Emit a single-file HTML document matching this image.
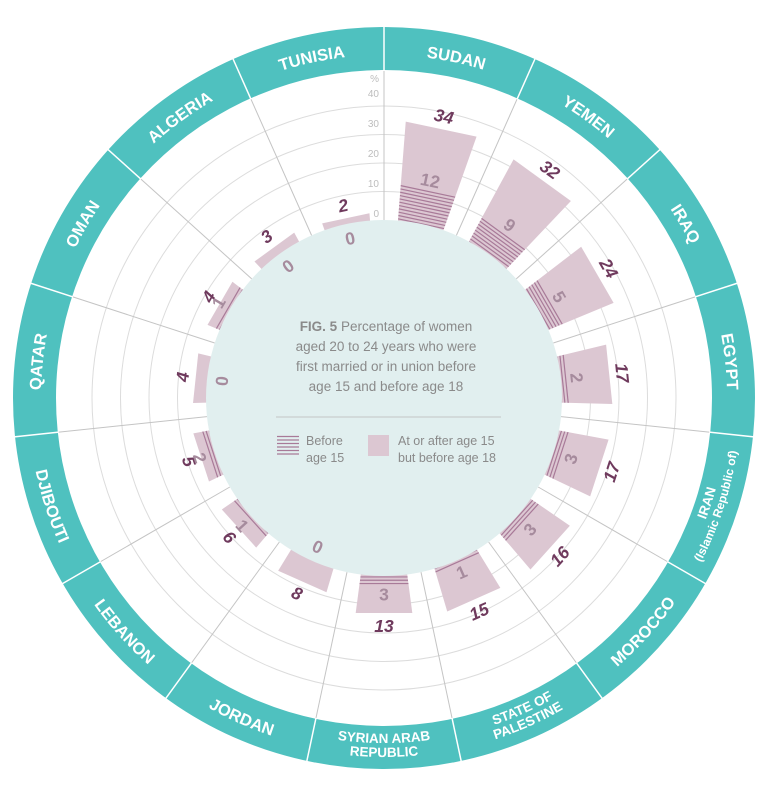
<!DOCTYPE html>
<html><head><meta charset="utf-8"><style>
body{margin:0;background:#fff;}
svg{display:block;font-family:"Liberation Sans",sans-serif;}
</style></head><body>
<svg id="chart" width="773" height="791" viewBox="0 0 773 791" xmlns="http://www.w3.org/2000/svg">
<g id="grid"></g>
<g id="bars"></g>
<circle cx="384" cy="398" r="178" fill="#e1efef"/>
<g id="labels"></g>
<g id="ring"></g>
<g font-size="13.5" fill="#8a8a8a" text-anchor="middle">
<text x="386" y="331"><tspan font-weight="bold">FIG. 5</tspan>  Percentage of women</text>
<text x="386" y="351">aged 20 to 24 years who were</text>
<text x="386" y="371">first married or in union before</text>
<text x="386" y="391">age 15 and before age 18</text>
</g>
<line x1="276" y1="417" x2="501" y2="417" stroke="#c4c4c4" stroke-width="1"/>
<g>
<g stroke="#a87a98" stroke-width="1.2">
<line x1="277" y1="436.5" x2="299" y2="436.5"/><line x1="277" y1="440" x2="299" y2="440"/><line x1="277" y1="443.5" x2="299" y2="443.5"/><line x1="277" y1="447" x2="299" y2="447"/><line x1="277" y1="450.5" x2="299" y2="450.5"/><line x1="277" y1="454" x2="299" y2="454"/>
</g>
<text x="306" y="445" font-size="12.5" fill="#8a8a8a">Before</text>
<text x="306" y="462" font-size="12.5" fill="#8a8a8a">age 15</text>
<rect x="368" y="435" width="21" height="21" fill="#dcc7d2"/>
<text x="398" y="445" font-size="12.5" fill="#8a8a8a">At or after age 15</text>
<text x="398" y="462" font-size="12.5" fill="#8a8a8a">but before age 18</text>
</g>
<g id="ticks" font-size="10" fill="#bdbdbd" text-anchor="end"></g>
</svg>
<script>
const countries = ["SUDAN","YEMEN","IRAQ","EGYPT","IRAN","MOROCCO","STATE OF|PALESTINE","SYRIAN ARAB|REPUBLIC","JORDAN","LEBANON","DJIBOUTI","QATAR","OMAN","ALGERIA","TUNISIA"];
const before18 = [34,32,24,17,17,16,15,13,8,6,5,4,4,3,2];
const before15 = [12,9,5,2,3,3,1,3,0,1,2,0,1,0,0];
const tickValues = [0,10,20,30,40];

const NS="http://www.w3.org/2000/svg";
const CX=384, CY=398, R0=178, K=2.85, SEC=24, HW=7.5;
function rScale(v){return R0+K*v;}
function pt(a,r){const t=a*Math.PI/180;return [CX+r*Math.sin(t), CY-r*Math.cos(t)];}
function mk(tag,attrs,parent){const e=document.createElementNS(NS,tag);for(const k in attrs)e.setAttribute(k,attrs[k]);parent.appendChild(e);return e;}
const grid=document.getElementById('grid'),bars=document.getElementById('bars'),labels=document.getElementById('labels'),ring=document.getElementById('ring'),ticks=document.getElementById('ticks');

tickValues.forEach(v=>{ if(v>0){const c=mk('circle',{cx:CX,cy:CY,r:rScale(v),fill:'none',stroke:'#dcdcdc','stroke-width':1},grid);

}});
countries.forEach((c,i)=>{const a=i*SEC;const p1=pt(a,R0),p2=pt(a,328);
const l=mk('line',{x1:p1[0],y1:p1[1],x2:p2[0],y2:p2[1],stroke:'#c4c4c4','stroke-width':1},grid);

});
tickValues.forEach(v=>{const t=mk('text',{x:CX-5,y:CY-(185+3*v)+4},ticks);t.textContent=v;

});
const pct=mk('text',{x:CX-5,y:82},ticks);pct.textContent='%';



function rot(m){return (m>90&&m<270)?m-180:m;}
countries.forEach((name,i)=>{
  const m=i*SEC+SEC/2, cs=Math.cos(HW*Math.PI/180);
  const d=rScale(before18[i]), d15=rScale(before15[i]);
  const a=pt(m-HW,150),b=pt(m-HW,d/cs),c=pt(m+HW,d/cs),e=pt(m+HW,150);
  const key=name.split('|').join('-').toLowerCase().replace(/ /g,'-');
  const poly=mk('polygon',{points:[a,b,c,e].map(p=>p.join(',')).join(' '),fill:'#dcc7d2'},bars);
  
  
  if(before15[i]>0){
    const g=mk('g',{stroke:'#a87a98','stroke-width':1.2},bars);
    
    
    for(let s=d15-1;s>160;s-=3.3){const p=pt(m-HW,s/cs),q=pt(m+HW,s/cs);mk('line',{x1:p[0],y1:p[1],x2:q[0],y2:q[1]},g);}
  }
  const r=rot(m);
  const po=pt(m,d+13);
  const t1=mk('text',{x:po[0],y:po[1],'font-size':17.5,'font-weight':'bold','font-style':'italic',fill:'#6f3a5d','text-anchor':'middle','dominant-baseline':'central',transform:`rotate(${r} ${po[0]} ${po[1]})`},labels);
  t1.textContent=before18[i];
  
  
  const pi=pt(m,before15[i]>0?d15+10:163);
  const t2=mk('text',{x:pi[0],y:pi[1],'font-size':17.5,'font-weight':'bold',fill:'#a68b9d','text-anchor':'middle','dominant-baseline':'central',transform:`rotate(${r} ${pi[0]} ${pi[1]})`},labels);
  t2.textContent=before15[i];
  
  
});

const RO=371, RI=328;
const ann=mk('path',{d:`M ${CX} ${CY-RO} A ${RO} ${RO} 0 0 1 ${CX} ${CY+RO} A ${RO} ${RO} 0 0 1 ${CX} ${CY-RO} Z M ${CX} ${CY-RI} A ${RI} ${RI} 0 0 0 ${CX} ${CY+RI} A ${RI} ${RI} 0 0 0 ${CX} ${CY-RI} Z`,fill:'#4fc1bf','fill-rule':'evenodd'},ring);


countries.forEach((name,i)=>{
  const a=i*SEC;const p1=pt(a,327),p2=pt(a,373);
  const l=mk('line',{x1:p1[0],y1:p1[1],x2:p2[0],y2:p2[1],stroke:'#fff','stroke-width':1.5},ring);
  
  
  const m=a+SEC/2, rev=(m>90&&m<270);
  const lines=name.split('|');
  let radii;
  if(lines.length===1) radii=[rev?356:343];
  else radii=rev?[345,359]:[352,338];
  if(name==='IRAN'){lines.push('(Islamic Republic of)');radii=[344,357];}
  lines.forEach((ln,j)=>{
    const rr=radii[j];const id='tp'+i+'_'+j;
    const s=pt(rev?m+20:m-20,rr),e=pt(rev?m-20:m+20,rr);
    mk('path',{id:id,d:`M ${s[0]} ${s[1]} A ${rr} ${rr} 0 0 ${rev?0:1} ${e[0]} ${e[1]}`,fill:'none'},ring);
    const small=(name==='IRAN'&&j===1);
    const fs=lines.length>1?(small?12:13.5):16.5;
    const t=mk('text',{'font-size':fs,'font-weight':'bold',fill:'#fff','text-anchor':'middle'},ring);
    
    
    const tp=mk('textPath',{href:'#'+id,startOffset:'50%'},t);
    tp.textContent=ln;
  });
});
</script>
</body></html>
